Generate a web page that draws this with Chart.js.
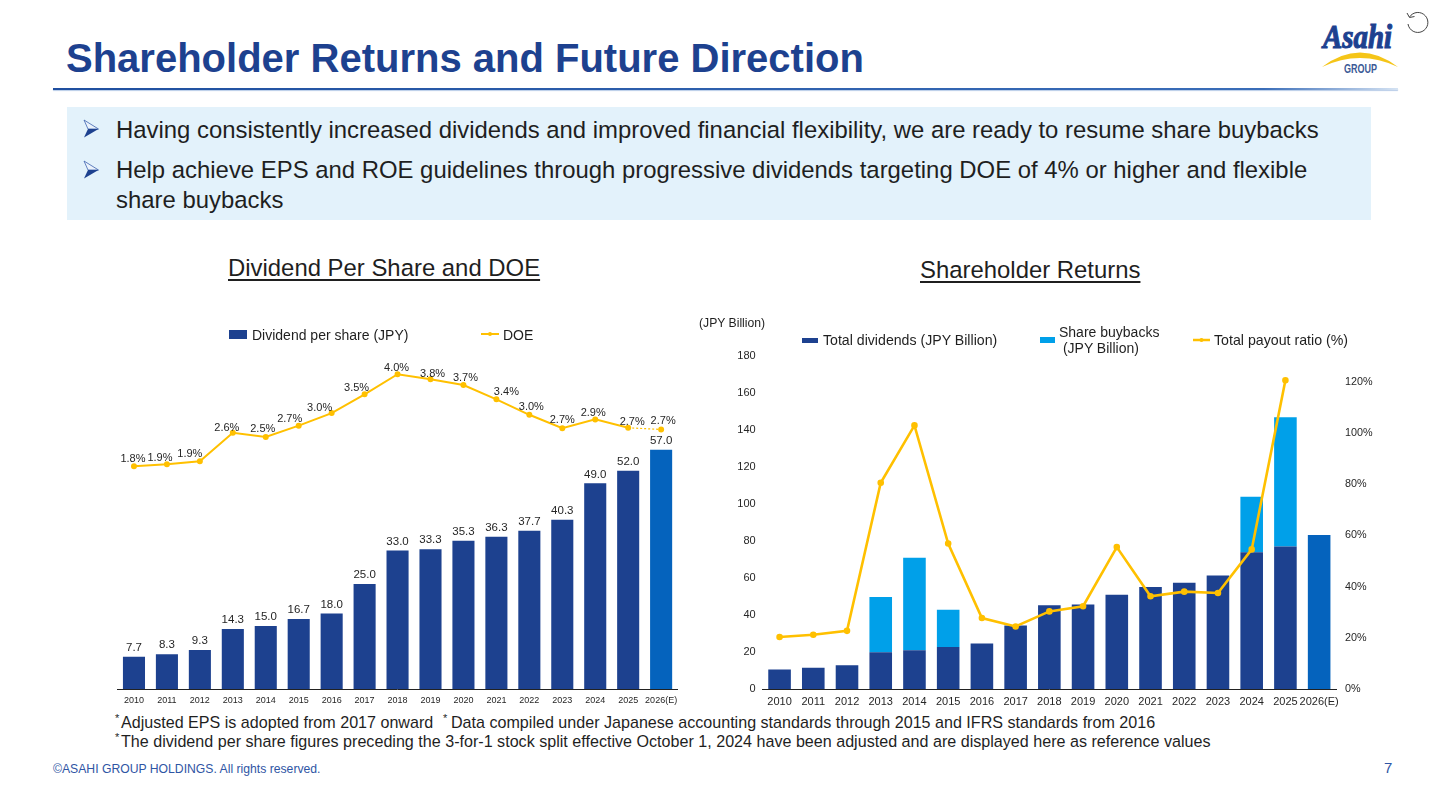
<!DOCTYPE html>
<html><head><meta charset="utf-8">
<script src="https://cdn.jsdelivr.net/npm/chart.js@4"></script>
<style>
html,body{margin:0;padding:0;background:#fff;overflow:hidden}
body{width:1440px;height:810px;position:relative;font-family:"Liberation Sans",Arial,sans-serif;color:#1f1f1f}
.a{position:absolute;white-space:nowrap}
canvas{position:absolute;display:block}
.sw{position:absolute}
</style></head><body>
<div class="a" style="left:66px;top:35px;font-size:40px;font-weight:bold;color:#1D418F;line-height:46px">Shareholder Returns and Future Direction</div>
<div class="a" style="left:53px;top:88px;width:1345px;height:2px;background:linear-gradient(90deg,#1f4f9f 0,#3a6db8 90%,#d5e3f3 100%);box-shadow:0 1px 1px #b9cde8"></div>
<div class="a" style="left:67px;top:107px;width:1304px;height:113px;background:#E3F2FB"></div>
<svg class="a" style="left:83px;top:119px" width="17" height="20"><path d="M1 1L15.5 10L5 10Z" fill="#EAF2FB" stroke="#3E62AE" stroke-width="0.8"/><path d="M1 18.5L15.5 10L5 10Z" fill="#1D418F"/></svg>
<div class="a" style="left:116px;top:115px;font-size:23.9px;line-height:30px">Having consistently increased dividends and improved financial flexibility, we are ready to resume share buybacks</div>
<svg class="a" style="left:83px;top:160px" width="17" height="20"><path d="M1 1L15.5 10L5 10Z" fill="#EAF2FB" stroke="#3E62AE" stroke-width="0.8"/><path d="M1 18.5L15.5 10L5 10Z" fill="#1D418F"/></svg>
<div class="a" style="left:116px;top:155px;font-size:23.9px;line-height:30px">Help achieve EPS and ROE guidelines through progressive dividends targeting DOE of 4% or higher and flexible<br>share buybacks</div>
<div class="a" style="left:228px;top:253px;font-size:23.9px;line-height:30px;text-decoration:underline;text-underline-offset:3px">Dividend Per Share and DOE</div>
<div class="a" style="left:920px;top:255px;font-size:23.9px;line-height:30px;text-decoration:underline;text-underline-offset:3px">Shareholder Returns</div>

<canvas id="left" style="left:100px;top:340px"></canvas>
<canvas id="right" style="left:700px;top:340px"></canvas>

<div class="sw" style="left:229px;top:330px;width:18px;height:9px;background:#1D418F"></div>
<div class="a" style="left:252px;top:326px;font-size:14px;line-height:18px">Dividend per share (JPY)</div>
<svg class="a" style="left:481px;top:330px" width="18" height="8"><line x1="0" y1="4" x2="18" y2="4" stroke="#FFC000" stroke-width="2"/><circle cx="9" cy="4" r="2" fill="#FFC000"/></svg>
<div class="a" style="left:503px;top:326px;font-size:14px;line-height:18px">DOE</div>

<div class="a" style="left:699px;top:316px;font-size:12.2px;line-height:14px">(JPY Billion)</div>
<div class="sw" style="left:802px;top:338px;width:16px;height:5px;background:#1D418F"></div>
<div class="a" style="left:823px;top:332px;font-size:14.15px;line-height:17px">Total dividends (JPY Billion)</div>
<div class="sw" style="left:1040px;top:337px;width:15px;height:6px;background:#00A0E9"></div>
<div class="a" style="left:1059px;top:324px;font-size:14px;line-height:16px">Share buybacks<br>&nbsp;(JPY Billion)</div>
<svg class="a" style="left:1193px;top:336px" width="17" height="8"><line x1="0" y1="4" x2="17" y2="4" stroke="#FFC000" stroke-width="2.5"/><circle cx="8.5" cy="4" r="2" fill="#FFC000"/></svg>
<div class="a" style="left:1214px;top:332px;font-size:14.2px;line-height:17px">Total payout ratio (%)</div>

<div class="a" style="left:115px;top:712px;font-size:11px;line-height:12px">*</div>
<div class="a" style="left:121px;top:713px;font-size:16.1px;line-height:19px">Adjusted EPS is adopted from 2017 onward</div>
<div class="a" style="left:443px;top:712px;font-size:11px;line-height:12px">*</div>
<div class="a" style="left:451px;top:713px;font-size:16.1px;line-height:19px">Data compiled under Japanese accounting standards through 2015 and IFRS standards from 2016</div>
<div class="a" style="left:115px;top:731px;font-size:11px;line-height:12px">*</div>
<div class="a" style="left:121px;top:732px;font-size:16.12px;line-height:19px">The dividend per share figures preceding the 3-for-1 stock split effective October 1, 2024 have been adjusted and are displayed here as reference values</div>
<div class="a" style="left:53px;top:762px;font-size:12.2px;line-height:15px;color:#2F55A4">©ASAHI GROUP HOLDINGS. All rights reserved.</div>
<div class="a" style="left:1384px;top:759px;font-size:15px;line-height:18px;color:#2F55A4">7</div>

<svg class="a" style="left:1318px;top:18px" width="84" height="60">
<text x="5" y="30" font-family="Liberation Serif" font-weight="bold" font-style="italic" font-size="33" fill="#1D418F" stroke="#1D418F" stroke-width="1.1" textLength="69" lengthAdjust="spacingAndGlyphs">Asahi</text>
<path d="M4 49 Q42 20 80 49 Q42 31 4 49Z" fill="#F5C518"/>
<text x="26" y="54.5" font-family="Liberation Sans" font-weight="bold" font-size="12" fill="#3C5A96" textLength="33" lengthAdjust="spacingAndGlyphs">GROUP</text>
</svg>
<svg class="a" style="left:1405px;top:11px" width="24" height="25" fill="none" stroke="#444" stroke-width="1">
<path d="M4.5 6 A10 10 0 1 1 3 13"/><path d="M2 2 L4.5 6.5 L9.5 5.5"/>
</svg>

<script>
const years = ["2010","2011","2012","2013","2014","2015","2016","2017","2018","2019","2020","2021","2022","2023","2024","2025","2026(E)"];
const dividendPerShare = [7.7,8.3,9.3,14.3,15.0,16.7,18.0,25.0,33.0,33.3,35.3,36.3,37.7,40.3,49.0,52.0,57.0];
const doeValues = [1.80,1.85,1.92,2.60,2.50,2.77,3.07,3.52,4.00,3.88,3.74,3.40,3.03,2.71,2.92,2.72,2.68];
const doeLabels = ["1.8%","1.9%","1.9%","2.6%","2.5%","2.7%","3.0%","3.5%","4.0%","3.8%","3.7%","3.4%","3.0%","2.7%","2.9%","2.7%","2.7%"];
const totalDividends = [10.6,11.5,12.8,19.8,21.0,22.7,24.6,34.3,45.3,45.7,51.0,55.2,57.4,61.3,73.9,77.0,83.3];
const shareBuybacks = [null,null,null,29.9,49.9,20.1,null,null,null,null,null,null,null,null,30.0,69.9,null];
const payoutRatio = [20.3,21.2,22.7,80.5,102.9,56.8,27.7,24.4,30.3,32.3,55.4,36.2,38.0,37.5,54.5,120.5,null];
const rightTicks = [0,20,40,60,80,100,120,140,160,180];

const NAVY="#1D418F", FORECAST="#0563BD", CYAN="#00A0E9", GOLD="#FFC000", TXT="#262626";
const FONT="'Liberation Sans', Arial, sans-serif";
const fy = c => c.map((_,i)=> i===16 ? FORECAST : NAVY);
// label nudges that follow the hand-placed labels of the slide
const doeNudgeX=[-1,-7,-10,-6,-3,-9,-12,-8,-1,2,2,10,2,0,-2,4,2];
const doeNudgeY=[-7,-6,-7,-5,-8,-7,-5,-6,-6,-5,-7,-7,-8,-8,-6,-6,-8];

const valueLabels = {
  id:'valueLabels',
  afterDatasetsDraw(chart){
    if(chart.canvas.id!=='left') return;
    const {ctx}=chart; ctx.save();
    ctx.font="11.5px "+FONT; ctx.fillStyle=TXT; ctx.textAlign='center'; ctx.textBaseline='middle';
    chart.getDatasetMeta(0).data.forEach((el,i)=>{
      ctx.fillText(dividendPerShare[i].toFixed(1), el.x, el.y-9);
    });
    ctx.font="11px "+FONT;
    chart.getDatasetMeta(1).data.forEach((el,i)=>{
      ctx.fillText(doeLabels[i], el.x+doeNudgeX[i], el.y+doeNudgeY[i]);
    });
    ctx.restore();
  }
};

function fix(c,w,h){c.width=w;c.height=h;c.style.width=w+'px';c.style.height=h+'px';}
const leftC=document.getElementById('left'); fix(leftC,600,370);
new Chart(leftC,{
  type:'bar',
  plugins:[valueLabels],
  data:{labels:years,datasets:[
    {type:'bar',label:'Dividend per share (JPY)',data:dividendPerShare,backgroundColor:fy(years),yAxisID:'y',order:2,categoryPercentage:1,barPercentage:0.67},
    {type:'line',label:'DOE',data:doeValues,yAxisID:'y1',order:1,borderColor:GOLD,backgroundColor:GOLD,borderWidth:2,pointRadius:2,pointHoverRadius:2,tension:0,
     segment:{borderDash:c=>c.p1DataIndex===16?[2,2]:undefined,borderWidth:c=>c.p1DataIndex===16?1.2:2}}
  ]},
  options:{
    responsive:false,animation:false,
    layout:{padding:{left:17.5,right:22.4,top:12,bottom:0}},
    plugins:{legend:{display:false},tooltip:{enabled:false}},
    scales:{
      x:{grid:{display:false,drawTicks:false},border:{color:'#222',width:1},
         afterFit(s){s.height=21;},
         ticks:{font:{size:9,family:FONT},color:TXT,autoSkip:false,maxRotation:0,padding:6}},
      y:{display:false,min:0,max:80.3},
      y1:{display:false,min:-3.52,max:4.53}
    }
  }
});

const rightC=document.getElementById('right'); fix(rightC,700,370);
new Chart(rightC,{
  type:'bar',
  data:{labels:years,datasets:[
    {type:'bar',label:'Total dividends (JPY Billion)',data:totalDividends,backgroundColor:fy(years),yAxisID:'y',stack:'s',order:2,categoryPercentage:1,barPercentage:0.67},
    {type:'bar',label:'Share buybacks (JPY Billion)',data:shareBuybacks,backgroundColor:CYAN,yAxisID:'y',stack:'s',order:2,categoryPercentage:1,barPercentage:0.67},
    {type:'line',label:'Total payout ratio (%)',data:payoutRatio,yAxisID:'y1',order:1,borderColor:GOLD,backgroundColor:GOLD,borderWidth:2.6,pointRadius:2,pointHoverRadius:2,tension:0,spanGaps:false}
  ]},
  options:{
    responsive:false,animation:false,
    layout:{padding:{left:0,right:0,top:16,bottom:0}},
    plugins:{legend:{display:false},tooltip:{enabled:false}},
    scales:{
      x:{stacked:true,grid:{display:false,drawTicks:false},border:{color:'#222',width:1},
         afterFit(s){s.height=21;},
         ticks:{font:{size:11,family:FONT},color:TXT,autoSkip:false,maxRotation:0,padding:6}},
      y:{stacked:true,position:'left',min:0,max:180,afterFit(s){s.width=62.7;},
         afterBuildTicks(s){s.ticks=rightTicks.map(v=>({value:v}));},
         grid:{display:false,drawTicks:false},border:{display:false},
         ticks:{font:{size:11,family:FONT},color:TXT,padding:7}},
      y1:{position:'right',min:0,max:130,afterFit(s){s.width=64;},
         grid:{display:false,drawTicks:false},border:{display:false},
         ticks:{stepSize:20,includeBounds:false,font:{size:10.8,family:FONT},color:TXT,padding:9,callback:v=>v+'%'}}
    }
  }
});
</script>
</body></html>
